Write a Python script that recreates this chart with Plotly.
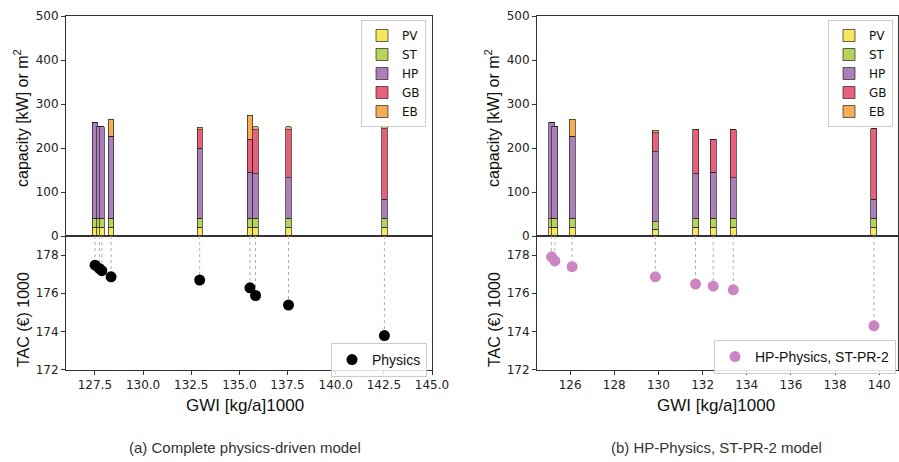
import plotly.graph_objects as go

# ---------------- data ----------------
# (a) Complete physics-driven model
gwi_a = [127.51, 127.73, 127.86, 128.34, 132.94, 135.55, 135.84, 137.55, 142.53]
tac_a = [177.47, 177.30, 177.18, 176.86, 176.69, 176.28, 175.88, 175.38, 173.78]
pv_a = [20, 20, 20, 20, 20, 20, 20, 20, 20]
st_a = [20, 20, 20, 20, 20, 20, 20, 20, 20]
hp_a = [217, 210, 208, 187, 159, 105, 101, 92, 44]
gb_a = [0, 0, 0, 0, 43, 75, 101, 110, 160]
eb_a = [0, 0, 0, 38, 5, 54, 6, 6, 4]

# (b) HP-Physics, ST-PR-2 model
gwi_b = [125.16, 125.31, 126.09, 129.86, 131.68, 132.48, 133.39, 139.76]
tac_b = [177.91, 177.69, 177.39, 176.86, 176.48, 176.37, 176.18, 174.29]
pv_b = [20, 20, 20, 15, 20, 20, 20, 20]
st_b = [20, 20, 20, 17, 20, 20, 20, 20]
hp_b = [218, 210, 187, 160, 101, 105, 92, 44]
gb_b = [0, 0, 0, 43, 101, 75, 110, 160]
eb_b = [0, 0, 38, 5, 1, 0, 0, 0]

tech_names = ["PV", "ST", "HP", "GB", "EB"]
tech_colors = ["#f6e75c", "#b7d35c", "#ac7fb8", "#e9607a", "#f6ad56"]

xticks_a = [127.5, 130.0, 132.5, 135.0, 137.5, 140.0, 142.5, 145.0]
xticks_b = [126, 128, 130, 132, 134, 136, 138, 140]
cap_ticks = [0, 100, 200, 300, 400, 500]
tac_ticks = [172, 174, 176, 178]

TAC_TOP = 179
W, H = 899, 462

fig = go.Figure()

def px_x(p):
    return p / W

def px_y(p):
    return 1 - p / H

panels = [
    dict(gwi=gwi_a, tac=tac_a, caps=[pv_a, st_a, hp_a, gb_a, eb_a], xa="x", ya_top="y", ya_bot="y2",
         xa_bot="x2", leg="legend", leg2="legend3", name="Physics", mcol="#000000"),
    dict(gwi=gwi_b, tac=tac_b, caps=[pv_b, st_b, hp_b, gb_b, eb_b], xa="x3", ya_top="y3", ya_bot="y4",
         xa_bot="x4", leg="legend2", leg2="legend4", name="HP-Physics, ST-PR-2", mcol="#cc85c2"),
]

for p in panels:
    for name, col, vals in zip(tech_names, tech_colors, p["caps"]):
        fig.add_trace(go.Bar(
            x=p["gwi"], y=vals, width=0.27, name=name,
            marker=dict(color=col, line=dict(color="#222222", width=0.7)),
            xaxis=p["xa"], yaxis=p["ya_top"], legend=p["leg"], showlegend=True,
        ))
    # dotted connectors
    lx, ly = [], []
    for g, t in zip(p["gwi"], p["tac"]):
        lx += [g, g, None]
        ly += [TAC_TOP, t, None]
    fig.add_trace(go.Scatter(
        x=lx, y=ly, mode="lines", line=dict(color="#b0b0b0", width=1, dash="dot"),
        xaxis=p["xa_bot"], yaxis=p["ya_bot"], showlegend=False, hoverinfo="skip",
    ))
    fig.add_trace(go.Scatter(
        x=p["gwi"], y=p["tac"], mode="markers", name=p["name"],
        marker=dict(color=p["mcol"], size=11),
        xaxis=p["xa_bot"], yaxis=p["ya_bot"], legend=p["leg2"], showlegend=True,
    ))

tick_font = dict(family="DejaVu Sans", size=12, color="#222222")
title_font = dict(family="Liberation Sans", size=16, color="#111111")
ax_common = dict(showline=True, linecolor="#333333", linewidth=1, mirror=True,
                 ticks="outside", ticklen=4, tickcolor="#333333", showgrid=False,
                 zeroline=False, tickfont=tick_font, automargin=False)

top_dom = [px_y(236), px_y(16)]
bot_dom = [px_y(369.5), px_y(236)]
dom_a = [px_x(66), px_x(432)]
dom_b = [px_x(537), px_x(898)]
range_a = [126.0, 145.0]
range_b = [124.5, 140.85]

fig.update_layout(
    width=W, height=H, margin=dict(l=0, r=0, t=0, b=0, autoexpand=False),
    plot_bgcolor="white", paper_bgcolor="white", barmode="stack",
    font=dict(family="Liberation Sans", color="#222222"),
    xaxis=dict(ax_common, domain=dom_a, range=range_a, anchor="y", showticklabels=False, ticks="",
               tickvals=xticks_a),
    yaxis=dict(ax_common, domain=top_dom, range=[0, 500], anchor="x", tickvals=cap_ticks),
    xaxis2=dict(ax_common, domain=dom_a, range=range_a, anchor="y2", tickvals=xticks_a,
                ticktext=[f"{v:.1f}" for v in xticks_a]),
    yaxis2=dict(ax_common, domain=bot_dom, range=[172, TAC_TOP], anchor="x2", tickvals=tac_ticks),
    xaxis3=dict(ax_common, domain=dom_b, range=range_b, anchor="y3", showticklabels=False, ticks="",
                tickvals=xticks_b),
    yaxis3=dict(ax_common, domain=top_dom, range=[0, 500], anchor="x3", tickvals=cap_ticks),
    xaxis4=dict(ax_common, domain=dom_b, range=range_b, anchor="y4", tickvals=xticks_b),
    yaxis4=dict(ax_common, domain=bot_dom, range=[172, TAC_TOP], anchor="x4", tickvals=tac_ticks),
)

# axis titles as annotations (positioned like the reference)
gwi_font = dict(family="Liberation Sans", size=17, color="#111111")
for xc in (245, 716):
    fig.add_annotation(text="GWI [kg/a]1000", x=px_x(xc), y=px_y(405), xref="paper", yref="paper",
                       showarrow=False, font=gwi_font, xanchor="center", yanchor="middle")
for xc in (21, 492):
    fig.add_annotation(text="capacity [kW] or m<sup>2</sup>", x=px_x(xc), y=px_y(118),
                       xref="paper", yref="paper", showarrow=False, font=title_font,
                       textangle=-90, xanchor="center", yanchor="middle")
    fig.add_annotation(text="TAC (€) 1000", x=px_x(xc + 2), y=px_y(320),
                       xref="paper", yref="paper", showarrow=False, font=title_font,
                       textangle=-90, xanchor="center", yanchor="middle")

leg_common = dict(bgcolor="rgba(255,255,255,0.85)", bordercolor="#cccccc", borderwidth=1,
                  font=dict(family="DejaVu Sans", size=12, color="#111111"),
                  xanchor="right", yanchor="top", tracegroupgap=0, traceorder="normal")
fig.update_layout(
    legend=dict(leg_common, x=px_x(426), y=px_y(20)),
    legend2=dict(leg_common, x=px_x(893), y=px_y(20)),
    legend3=dict(leg_common, x=px_x(427), y=px_y(343),
                 font=dict(family="Liberation Sans", size=14, color="#111111")),
    legend4=dict(leg_common, x=px_x(896), y=px_y(340),
                 font=dict(family="Liberation Sans", size=14, color="#111111")),
)

cap_font = dict(family="Liberation Sans", size=15, color="#333333")
fig.add_annotation(text="(a) Complete physics-driven model", x=px_x(245), y=px_y(447),
                   xref="paper", yref="paper", showarrow=False, font=cap_font,
                   xanchor="center", yanchor="middle")
fig.add_annotation(text="(b) HP-Physics, ST-PR-2 model", x=px_x(716), y=px_y(447),
                   xref="paper", yref="paper", showarrow=False, font=cap_font,
                   xanchor="center", yanchor="middle")

fig.write_html("out.html", config={"displayModeBar": False},
               post_script="document.body.style.margin='0';")
